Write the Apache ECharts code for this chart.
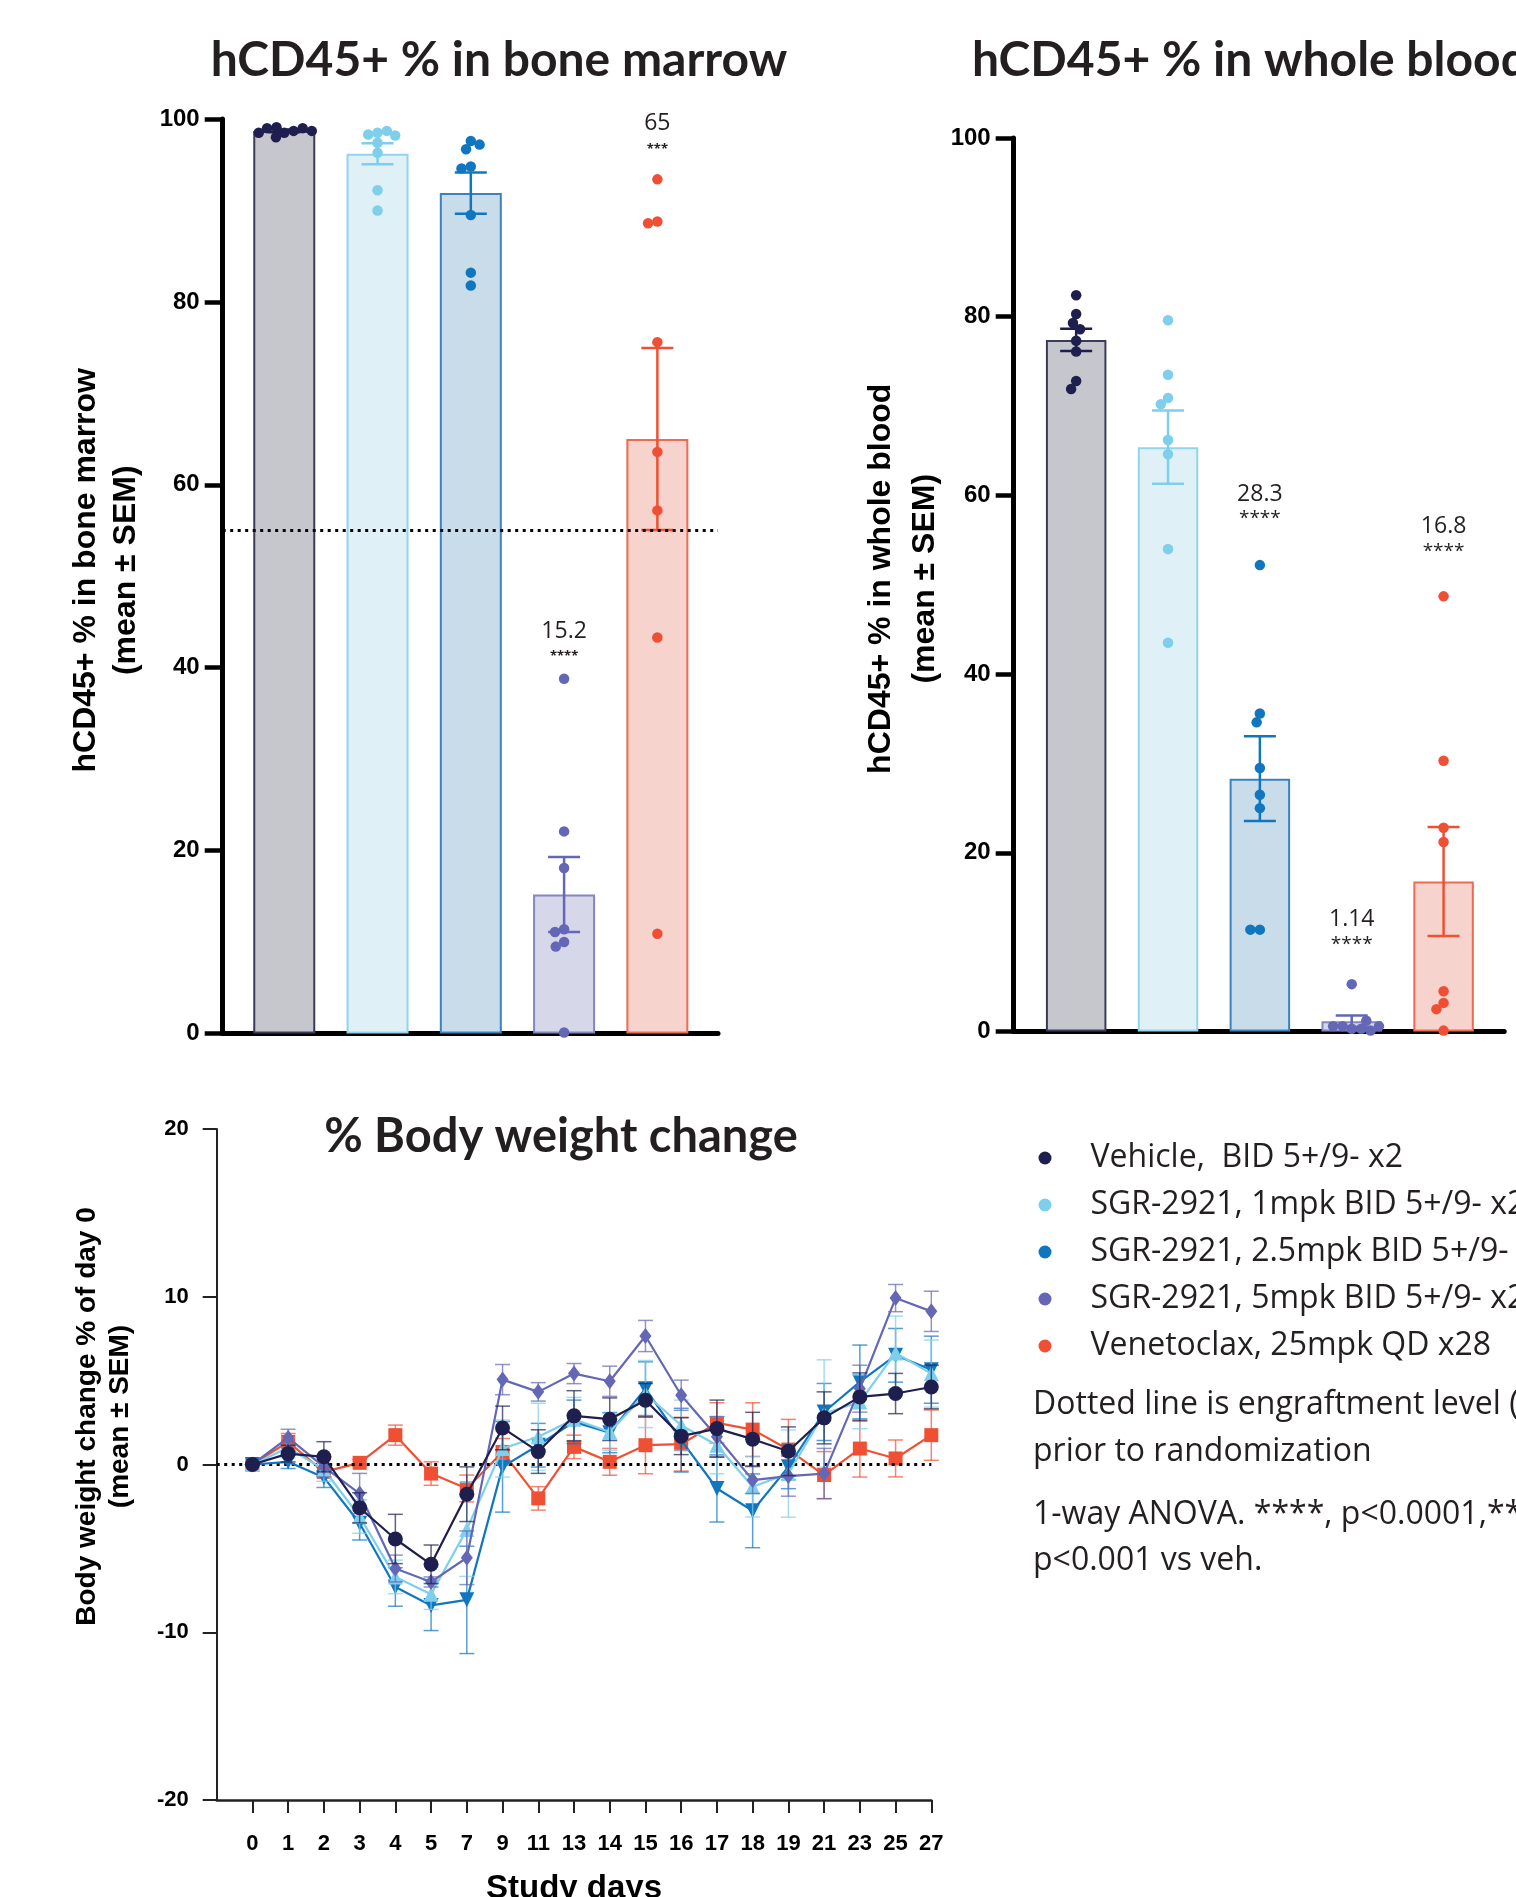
<!DOCTYPE html>
<html>
<head>
<meta charset="utf-8">
<script src="https://cdn.jsdelivr.net/npm/echarts@6.0.0/dist/echarts.min.js"></script>
<style>
html, body { margin: 0; padding: 0; background: #fff; }
#chart { width: 1516px; height: 1897px; }
</style>
</head>
<body>
<div id="chart"></div>
<script>
// groups, in legend order
const groups = [
  'Vehicle,  BID 5+/9- x2',
  'SGR-2921, 1mpk BID 5+/9- x2',
  'SGR-2921, 2.5mpk BID 5+/9- x2',
  'SGR-2921, 5mpk BID 5+/9- x2',
  'Venetoclax, 25mpk QD x28'
];

// hCD45+ % in bone marrow
const bmMean = [98.7, 96.2, 91.9, 15.2, 65.0];
const bmSem = [0.15, 1.15, 2.25, 4.1, 9.95];
const bmPoints = [
  [98.5, 99.1, 98.7, 99.0, 98.0, 99.0, 98.5, 98.7],
  [98.5, 98.3, 98.7, 98.2, 97.4, 96.3, 92.2, 90.0],
  [97.6, 96.7, 97.2, 94.8, 94.6, 89.5, 83.2, 81.8],
  [38.8, 22.1, 18.1, 11.4, 11.1, 10.0, 9.5, 0.1],
  [93.4, 88.8, 88.6, 75.6, 63.6, 57.2, 43.3, 10.9]
];
const bmNote = ['', '', '', '15.2', '65'];
const bmStars = ['', '', '', '****', '***'];
const bmEngraft = 55;

// hCD45+ % in whole blood
const wbMean = [77.4, 65.4, 28.3, 1.14, 16.8];
const wbSem = [1.25, 4.1, 4.75, 0.65, 6.1];
const wbPoints = [
  [82.4, 80.3, 79.3, 78.6, 77.3, 76.1, 72.8, 71.9],
  [79.6, 73.5, 70.9, 70.2, 66.2, 64.6, 54.0, 43.5],
  [52.2, 35.6, 34.6, 29.5, 26.5, 25.0, 11.4, 11.4],
  [5.3, 0.3, 0.6, 0.3, 0.6, 1.2, 0.1, 0.6],
  [48.7, 30.3, 22.8, 21.2, 4.5, 3.2, 2.5, 0.1]
];
const wbNote = ['', '', '28.3', '1.14', '16.8'];
const wbStars = ['', '', '****', '****', '****'];

// % body weight change
const days = ['0', '1', '2', '3', '4', '5', '7', '9', '11', '13', '14', '15', '16', '17', '18', '19', '21', '23', '25', '27'];
const vehBW   = [0, 0.65, 0.46, -2.58, -4.44, -5.95, -1.77, 2.18, 0.77, 2.9, 2.7, 3.83, 1.69, 2.14, 1.51, 0.79, 2.78, 4.03, 4.23, 4.62];
const vehSem  = [0, 0.5, 0.9, 0.9, 1.47, 1.15, 1.63, 1.3, 1.3, 1.5, 1.27, 1.0, 1.1, 1.7, 1.6, 1.45, 1.55, 1.43, 1.2, 1.3];
const mpk1BW  = [0, 1.0, -0.3, -3.1, -6.7, -7.74, -3.87, 0.95, 1.65, 2.7, 1.94, 4.2, 2.34, 1.15, -1.33, -0.54, 3.04, 3.73, 6.65, 5.42];
const mpk1Sem = [0, 0.6, 0.7, 1.0, 1.0, 0.9, 2.8, 1.7, 2.0, 1.3, 1.1, 2.0, 1.5, 1.7, 1.8, 2.6, 3.2, 1.6, 2.2, 2.0];
const mpk25BW = [0, 0.16, -0.77, -3.5, -7.3, -8.4, -8.07, -0.14, 1.15, 2.54, 1.9, 4.52, 1.45, -1.43, -2.76, -0.14, 3.13, 4.92, 6.51, 5.65];
const mpk25Sem= [0, 0.4, 0.6, 1.0, 1.15, 1.5, 3.2, 2.7, 1.3, 1.3, 1.2, 1.6, 1.9, 2.0, 2.2, 1.3, 1.7, 2.2, 1.6, 2.0];
const mpk5BW  = [0, 1.6, -0.14, -1.73, -6.2, -7.0, -5.56, 5.06, 4.33, 5.42, 4.96, 7.66, 4.13, 1.65, -0.93, -0.69, -0.54, 4.52, 9.92, 9.13];
const mpk5Sem = [0, 0.5, 0.6, 1.2, 0.8, 0.3, 1.6, 0.9, 0.55, 0.6, 0.9, 0.93, 0.9, 1.2, 0.8, 1.2, 1.5, 1.4, 0.81, 1.2];
const venBW   = [0, 1.35, -0.44, 0.1, 1.75, -0.54, -1.43, 0.75, -2.02, 1.05, 0.16, 1.15, 1.21, 2.48, 2.08, 0.89, -0.63, 0.95, 0.36, 1.75];
const venSem  = [0, 0.5, 0.3, 0.2, 0.6, 0.7, 0.8, 0.8, 0.7, 0.7, 0.8, 1.7, 1.6, 1.2, 1.6, 1.8, 1.4, 1.7, 1.1, 1.5];

const notes = [
  ['Dotted line is engraftment level (55%)', 1411],
  ['prior to randomization', 1458],
  ['1-way ANOVA. ****, p<0.0001,***,', 1521],
  ['p<0.001 vs veh.', 1567]
];

// styles
const dotColors = ['#1e1f4f', '#7dcfec', '#1076c0', '#6467b5', '#ef5033'];
const barFill = ['#c6c7cc', '#dff0f7', '#c9dcea', '#d6d7e8', '#f6d3cd'];
const barEdge = ['#3b3c5c', '#8fd5ee', '#3d82c0', '#8386c0', '#ef6a50'];
const textColor = '#231f20';
const tickFont = 'Liberation Sans, Arial, sans-serif';

let myChart = echarts.init(document.getElementById('chart'));

// panel layout (px)
const bmGrid = { left: 222.7, top: 119, width: 495.3, height: 914.5 };
const wbGrid = { left: 1013.7, top: 138, width: 490.5, height: 893.5 };
const bwGrid = { left: 216.7, top: 1129, width: 714.6, height: 671 };
const bmRange = [-0.66, 4.65];
const wbRange = [-0.68, 4.66];
// gap between highest dot and its annotation
const bmNoteGap = [0, 0, 0, 12, 20];
const wbNoteGap = [0, 0, 36, 30, 35];

// simple beeswarm so dots don't sit on top of each other
function swarm(vals, pxPerUnit, gap) {
  const placed = [];
  return vals.map(function (v) {
    const y = v * pxPerUnit;
    const blocked = [];
    placed.forEach(function (p) {
      const dy = Math.abs(p.y - y);
      if (dy < gap) {
        const dx = Math.sqrt(gap * gap - dy * dy);
        blocked.push([p.x - dx, p.x + dx]);
      }
    });
    const cands = [0];
    blocked.forEach(function (b) { cands.push(b[0], b[1]); });
    cands.sort(function (a, b) { return Math.abs(a) - Math.abs(b); });
    const x = cands.find(function (c) {
      return blocked.every(function (b) { return c <= b[0] + 1e-6 || c >= b[1] - 1e-6; });
    });
    placed.push({ x: x, y: y });
    return x;
  });
}

function barPanel(idx, grid, range, means, sems, points, noteTxt, starTxt, noteGap, barWidth, starSize) {
  const pxPerUnit = grid.height / 100;
  const pxPerCat = grid.width / (range[1] - range[0]);
  const series = [];
  series.push({
    type: 'bar',
    xAxisIndex: idx, yAxisIndex: idx,
    barWidth: barWidth,
    data: means.map(function (m, i) {
      return {
        value: [i, m],
        itemStyle: { color: barFill[i], borderColor: barEdge[i], borderWidth: 2 }
      };
    }),
    emphasis: { disabled: true },
    z: 2
  });
  series.push({
    type: 'custom',
    xAxisIndex: idx, yAxisIndex: idx,
    data: means.map(function (m, i) { return [i, m - sems[i], m + sems[i]]; }),
    renderItem: function (params, api) {
      const hi = api.coord([api.value(0), api.value(2)]);
      const lo = api.coord([api.value(0), api.value(1)]);
      const st = { stroke: dotColors[params.dataIndex], lineWidth: 2.5 };
      const h = 16;
      return {
        type: 'group',
        children: [
          { type: 'line', shape: { x1: hi[0], y1: hi[1], x2: lo[0], y2: lo[1] }, style: st },
          { type: 'line', shape: { x1: hi[0] - h, y1: hi[1], x2: hi[0] + h, y2: hi[1] }, style: st },
          { type: 'line', shape: { x1: lo[0] - h, y1: lo[1], x2: lo[0] + h, y2: lo[1] }, style: st }
        ]
      };
    },
    z: 3
  });
  const dots = [];
  points.forEach(function (vals, i) {
    const off = swarm(vals, pxPerUnit, 9.5);
    vals.forEach(function (v, k) {
      dots.push({ value: [i + off[k] / pxPerCat, v], itemStyle: { color: dotColors[i], opacity: 1 } });
    });
  });
  series.push({
    type: 'scatter',
    xAxisIndex: idx, yAxisIndex: idx,
    symbolSize: 10.5,
    itemStyle: { opacity: 1 },
    data: dots,
    emphasis: { disabled: true },
    z: 4
  });
  // value and significance labels above the groups
  const labels = [];
  noteTxt.forEach(function (t, i) {
    if (!t) return;
    const top = Math.max.apply(null, points[i]);
    labels.push({ value: [i, top], txt: t, stars: starTxt[i], label: { distance: noteGap[i] } });
  });
  series.push({
    type: 'scatter',
    xAxisIndex: idx, yAxisIndex: idx,
    symbolSize: 0,
    silent: true,
    itemStyle: { opacity: 1 },
    data: labels,
    label: {
      show: true,
      position: 'top',
      color: textColor,
      opacity: 1,
      textBorderWidth: 0,
      formatter: function (p) { return '{n|' + p.data.txt + '}\n{s|' + p.data.stars + '}'; },
      rich: {
        n: { fontFamily: 'Open Sans', fontSize: 23, color: textColor, lineHeight: idx === 0 ? 31 : 30 },
        s: { fontFamily: 'Open Sans', fontSize: starSize, fontWeight: idx === 0 ? 'bold' : 'normal', color: textColor, lineHeight: 20 }
      }
    },
    z: 5
  });
  return series;
}

const yAxisBar = function (idx, name, gap, lh) {
  return {
    type: 'value', gridIndex: idx, min: 0, max: 100, interval: 20,
    name: name, nameLocation: 'middle', nameGap: gap, nameRotate: 90,
    nameTextStyle: { fontFamily: tickFont, fontWeight: 'bold', fontSize: 32, lineHeight: lh, color: '#000', padding: [0, 0, 0, 12] },
    axisLine: { show: true, onZero: false, lineStyle: { color: '#000', width: 5 } },
    axisTick: { show: true, length: 18, lineStyle: { color: '#000', width: 4.5 } },
    axisLabel: { fontFamily: tickFont, fontWeight: 'bold', fontSize: 24, color: '#000', margin: 23 },
    splitLine: { show: false }
  };
};
const xAxisBar = function (idx, range) {
  return {
    type: 'value', gridIndex: idx, min: range[0], max: range[1],
    axisLine: { show: true, onZero: false, lineStyle: { color: '#000', width: 5 } },
    axisTick: { show: false }, axisLabel: { show: false }, splitLine: { show: false }
  };
};

// body weight series
const bwMeans = [vehBW, mpk1BW, mpk25BW, mpk5BW, venBW];
const bwSems = [vehSem, mpk1Sem, mpk25Sem, mpk5Sem, venSem];
const bwSymbols = [
  { symbol: 'circle', symbolSize: 15, symbolRotate: 0 },
  { symbol: 'triangle', symbolSize: 15, symbolRotate: 0 },
  { symbol: 'triangle', symbolSize: 15, symbolRotate: 180 },
  { symbol: 'diamond', symbolSize: [12, 16], symbolRotate: 0 },
  { symbol: 'rect', symbolSize: 14, symbolRotate: 0 }
];
const drawOrder = [4, 2, 1, 3, 0];

const bwSeries = [];
drawOrder.forEach(function (g, n) {
  const col = dotColors[g];
  bwSeries.push({
    type: 'custom',
    xAxisIndex: 2, yAxisIndex: 2,
    data: days.map(function (d, i) { return [d, bwMeans[g][i] - bwSems[g][i], bwMeans[g][i] + bwSems[g][i]]; }),
    renderItem: function (params, api) {
      const hi = api.coord([api.value(0), api.value(2)]);
      const lo = api.coord([api.value(0), api.value(1)]);
      const st = { stroke: col, lineWidth: 1.5, opacity: 0.7 };
      const h = 7.5;
      return {
        type: 'group',
        children: [
          { type: 'line', shape: { x1: hi[0], y1: hi[1], x2: lo[0], y2: lo[1] }, style: st },
          { type: 'line', shape: { x1: hi[0] - h, y1: hi[1], x2: hi[0] + h, y2: hi[1] }, style: st },
          { type: 'line', shape: { x1: lo[0] - h, y1: lo[1], x2: lo[0] + h, y2: lo[1] }, style: st }
        ]
      };
    },
    z: 2 + n * 2
  });
  const s = {
    type: 'line',
    name: groups[g],
    xAxisIndex: 2, yAxisIndex: 2,
    data: days.map(function (d, i) { return [d, bwMeans[g][i]]; }),
    symbol: bwSymbols[g].symbol,
    symbolSize: bwSymbols[g].symbolSize,
    symbolRotate: bwSymbols[g].symbolRotate,
    showAllSymbol: true,
    lineStyle: { color: col, width: 2.2 },
    itemStyle: { color: col, opacity: 1 },
    emphasis: { disabled: true },
    z: 3 + n * 2
  };
  if (n === 0) {
    s.markLine = {
      silent: true, symbol: ['none', 'none'], label: { show: false },
      lineStyle: { color: '#000', type: [3, 4.5], width: 3 },
      data: [{ yAxis: 0 }]
    };
  }
  bwSeries.push(s);
});

const bmSeries = barPanel(0, bmGrid, bmRange, bmMean, bmSem, bmPoints, bmNote, bmStars, bmNoteGap, 62, 13);
bmSeries[0].markLine = {
  silent: true, symbol: ['none', 'none'], label: { show: false },
  lineStyle: { color: '#000', type: [3, 4.5], width: 3 },
  data: [{ yAxis: bmEngraft }]
};
const wbSeries = barPanel(1, wbGrid, wbRange, wbMean, wbSem, wbPoints, wbNote, wbStars, wbNoteGap, 60.5, 19);

const titleStyle = { fontFamily: 'Lato', fontWeight: 'bold', fontSize: 48, color: textColor };

let options = {
  backgroundColor: '#fff',
  animation: false,
  title: [
    { text: 'hCD45+ % in bone marrow', left: 494, top: 32, textAlign: 'center', textStyle: titleStyle },
    { text: 'hCD45+ % in whole blood', left: 967, top: 32, textAlign: 'left', textStyle: titleStyle },
    { text: '% Body weight change', left: 556, top: 1108, textAlign: 'center', textStyle: Object.assign({}, titleStyle, { fontSize: 47 }) }
  ],
  legend: {
    data: groups,
    orient: 'vertical',
    left: 1033.5, top: 1137,
    icon: 'circle',
    itemWidth: 13, itemHeight: 13, itemGap: 15,
    selectedMode: false,
    textStyle: { fontFamily: 'Open Sans', fontSize: 32, lineHeight: 32, color: textColor, padding: [0, 0, 0, 34] }
  },
  grid: [
    Object.assign({ outerBoundsMode: 'none' }, bmGrid),
    Object.assign({ outerBoundsMode: 'none' }, wbGrid),
    Object.assign({ outerBoundsMode: 'none' }, bwGrid)
  ],
  xAxis: [
    xAxisBar(0, bmRange),
    xAxisBar(1, wbRange),
    {
      type: 'category', gridIndex: 2, boundaryGap: false,
      data: [''].concat(days),
      name: 'Study days', nameLocation: 'middle', nameGap: 72,
      nameTextStyle: { fontFamily: tickFont, fontWeight: 'bold', fontSize: 33, color: '#000' },
      axisLine: { show: true, onZero: false, lineStyle: { color: '#222', width: 2.5 } },
      axisTick: { show: true, length: 13, interval: function (i) { return i > 0; }, lineStyle: { color: '#222', width: 2 } },
      axisLabel: { interval: 0, fontFamily: tickFont, fontWeight: 'bold', fontSize: 22, color: '#000', margin: 33 },
      splitLine: { show: false }
    }
  ],
  yAxis: [
    yAxisBar(0, 'hCD45+ % in bone marrow\n(mean ± SEM)', 77, 40),
    yAxisBar(1, 'hCD45+ % in whole blood\n(mean ± SEM)', 67, 44),
    {
      type: 'value', gridIndex: 2, min: -20, max: 20, interval: 10,
      name: 'Body weight change % of day 0\n(mean ± SEM)', nameLocation: 'middle', nameGap: 80, nameRotate: 90,
      nameTextStyle: { fontFamily: tickFont, fontWeight: 'bold', fontSize: 28, lineHeight: 33, color: '#000', padding: [0, 0, 0, 96] },
      axisLine: { show: true, onZero: false, lineStyle: { color: '#222', width: 2 } },
      axisTick: { show: true, length: 14, lineStyle: { color: '#222', width: 2 } },
      axisLabel: { fontFamily: tickFont, fontWeight: 'bold', fontSize: 22, color: '#000', margin: 28 },
      splitLine: { show: false }
    }
  ],
  graphic: notes.map(function (n) {
    return {
      type: 'text', left: 1033, top: n[1] - 22,
      style: { text: n[0], fontFamily: 'Open Sans', fontSize: 32, fill: textColor }
    };
  }),
  series: bmSeries.concat(wbSeries, bwSeries)
};

myChart.setOption(options);
</script>
</body>
</html>
